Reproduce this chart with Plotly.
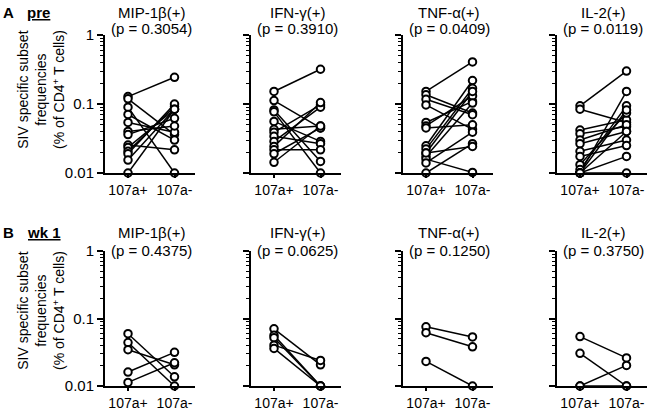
import plotly.graph_objects as go

categories = ["107a+", "107a-"]
panel_titles = ["MIP-1β(+)", "IFN-γ(+)", "TNF-α(+)", "IL-2(+)"]
pre_pvalues = ["(p = 0.3054)", "(p = 0.3910)", "(p = 0.0409)", "(p = 0.0119)"]
wk1_pvalues = ["(p = 0.4375)", "(p = 0.0625)", "(p = 0.1250)", "(p = 0.3750)"]
ytick_vals = [0.01, 0.1, 1]
ytick_text = ["0.01", "0.1", "1"]

# pre: paired values (107a+, 107a-)
pre_mip_pos = [0.128, 0.119, 0.090, 0.0705, 0.054, 0.040, 0.036, 0.0254, 0.0235, 0.0206, 0.019, 0.0154, 0.010]
pre_mip_neg = [0.244, 0.036, 0.010, 0.030, 0.039, 0.048, 0.062, 0.0217, 0.084, 0.092, 0.100, 0.084, 0.084]
pre_ifn_pos = [0.152, 0.112, 0.082, 0.077, 0.056, 0.043, 0.039, 0.034, 0.0287, 0.0243, 0.0217, 0.019, 0.0143]
pre_ifn_neg = [0.319, 0.045, 0.0147, 0.010, 0.0287, 0.048, 0.097, 0.0266, 0.090, 0.105, 0.0217, 0.045, 0.048]
pre_tnf_pos = [0.152, 0.136, 0.117, 0.097, 0.054, 0.048, 0.045, 0.0248, 0.0222, 0.0195, 0.0174, 0.0159, 0.014, 0.010, 0.0195]
pre_tnf_neg = [0.407, 0.074, 0.070, 0.043, 0.109, 0.131, 0.050, 0.219, 0.169, 0.152, 0.103, 0.0102, 0.039, 0.0266, 0.0243]
pre_il2_pos = [0.094, 0.084, 0.042, 0.037, 0.030, 0.0266, 0.0206, 0.0174, 0.0132, 0.0112, 0.010, 0.010, 0.010, 0.010, 0.010]
pre_il2_neg = [0.30, 0.054, 0.059, 0.047, 0.050, 0.040, 0.030, 0.025, 0.074, 0.094, 0.152, 0.082, 0.0174, 0.010, 0.040]

# wk 1
wk1_mip_pos = [0.0595, 0.044, 0.0345, 0.0161, 0.0113]
wk1_mip_neg = [0.0137, 0.010, 0.0206, 0.0315, 0.0221]
wk1_ifn_pos = [0.0704, 0.0563, 0.052, 0.0403, 0.036]
wk1_ifn_neg = [0.0206, 0.010, 0.010, 0.0239, 0.010]
wk1_tnf_pos = [0.0753, 0.0616, 0.0231]
wk1_tnf_neg = [0.0533, 0.0381, 0.010]
wk1_il2_pos = [0.0539, 0.0305, 0.010, 0.010]
wk1_il2_neg = [0.0261, 0.010, 0.0202, 0.010]

panels = [
    (pre_mip_pos, pre_mip_neg), (pre_ifn_pos, pre_ifn_neg),
    (pre_tnf_pos, pre_tnf_neg), (pre_il2_pos, pre_il2_neg),
    (wk1_mip_pos, wk1_mip_neg), (wk1_ifn_pos, wk1_ifn_neg),
    (wk1_tnf_pos, wk1_tnf_neg), (wk1_il2_pos, wk1_il2_neg),
]

W, H = 650, 410
FONT = "Liberation Sans, Arial, sans-serif"
cat0_px = [128, 274, 426, 580]
spacing = 46.5
rng = [-0.5, 1.45]
rows_px = [(173, 35), (386, 251)]  # (y at 0.01, y at 1)

minor_vals = [m * 10 ** e for e in (-2, -1) for m in range(2, 10)]

fig = go.Figure()
layout = dict(
    width=W, height=H, margin=dict(l=0, r=0, t=0, b=0, autoexpand=False),
    paper_bgcolor="white", plot_bgcolor="white", showlegend=False,
    font=dict(family=FONT, size=15, color="black"),
)
annotations = []

for i, (pos, neg) in enumerate(panels):
    row, col = divmod(i, 4)
    n = i + 1
    xs, ys = [], []
    for a, b in zip(pos, neg):
        xs += [categories[0], categories[1], None]
        ys += [a, b, None]
    fig.add_trace(go.Scatter(
        x=xs, y=ys, mode="lines+markers", xaxis=f"x{n}", yaxis=f"y{n}",
        line=dict(color="black", width=1.5),
        marker=dict(symbol="circle", size=7.5, color="white",
                    line=dict(color="black", width=2)),
        cliponaxis=False, hoverinfo="skip",
    ))
    c0 = cat0_px[col]
    x0 = (c0 + rng[0] * spacing) / W
    x1 = (c0 + rng[1] * spacing) / W
    yb, yt = rows_px[row]
    y0 = (H - yb) / H
    y1 = (H - yt) / H
    layout[f"xaxis{n}"] = dict(
        domain=[x0, x1], anchor=f"y{n}", type="category",
        categoryorder="array", categoryarray=categories,
        range=rng, showline=True, linecolor="black", linewidth=1.5,
        ticks="outside", ticklen=3, tickwidth=1.5, tickcolor="black",
        tickangle=0, showgrid=False, zeroline=False, tickfont=dict(size=14),
        automargin=False,
    )
    yax = dict(
        domain=[y0, y1], anchor=f"x{n}", type="log", range=[-2, 0],
        showline=True, linecolor="black", linewidth=1.5,
        ticks="outside", ticklen=6, tickwidth=1.5, tickcolor="black",
        tickvals=ytick_vals, showticklabels=(col == 0), tickfont=dict(size=15),
        showgrid=False, zeroline=False, automargin=False,
        minor=dict(tickvals=minor_vals, ticks="outside", ticklen=3,
                   tickwidth=1, tickcolor="black", showgrid=False),
    )
    if col == 0:
        yax["ticktext"] = ytick_text
    layout[f"yaxis{n}"] = yax
    # titles
    cx = (c0 + 0.5 * spacing) / W
    t1_y = 12 if row == 0 else 232
    t2_y = 29 if row == 0 else 250
    pv = pre_pvalues[col] if row == 0 else wk1_pvalues[col]
    annotations.append(dict(text=panel_titles[col], x=cx, y=(H - t1_y) / H,
                            xref="paper", yref="paper", showarrow=False,
                            xanchor="center", yanchor="middle", font=dict(size=15)))
    annotations.append(dict(text=pv, x=cx, y=(H - t2_y) / H,
                            xref="paper", yref="paper", showarrow=False,
                            xanchor="center", yanchor="middle", font=dict(size=15)))

# y-axis titles
for cy in (90, 311):
    annotations.append(dict(
        text="SIV specific subset<br>frequencies<br>(% of CD4<sup>+</sup> T cells)",
        x=41 / W, y=(H - cy) / H, xref="paper", yref="paper", showarrow=False,
        textangle=-90, xanchor="center", yanchor="middle", font=dict(size=14)))

# panel labels
for letter, label, ly in (("A", "pre", 12), ("B", "wk 1", 232)):
    annotations.append(dict(text=f"<b>{letter}</b>", x=1 / W, y=(H - ly) / H,
                            xref="paper", yref="paper", showarrow=False,
                            xanchor="left", yanchor="middle", font=dict(size=15)))
    annotations.append(dict(text=f"<b><u>{label}</u></b>", x=25 / W, y=(H - ly) / H,
                            xref="paper", yref="paper", showarrow=False,
                            xanchor="left", yanchor="middle", font=dict(size=15)))

layout["annotations"] = annotations
fig.update_layout(**layout)
fig.write_html("out.html", config={"displayModeBar": False},
               post_script="document.body.style.margin='0';document.body.style.overflow='hidden';")
